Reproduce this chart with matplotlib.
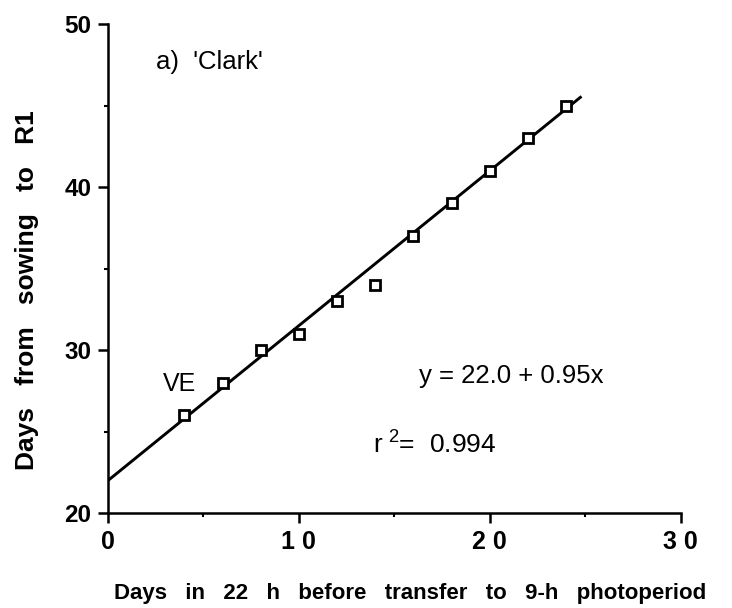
import matplotlib
matplotlib.use("Agg")
import matplotlib.pyplot as plt
import numpy as np
from matplotlib.ticker import MultipleLocator

plt.rcParams['font.family'] = ['Liberation Sans', 'DejaVu Sans']
plt.rcParams['mathtext.default'] = 'regular'

# data
days_in_22h = [4, 6, 8, 10, 12, 14, 16, 18, 20, 22, 24]
days_to_r1 = [26, 28, 30, 31, 33, 34, 37, 39, 41, 43, 45]

# regression as printed on the chart
intercept = 22.0
slope = 0.95
fit_end = 24.8

x_ticks = [0, 10, 20, 30]
x_tick_labels = ['0', '1 0', '2 0', '3 0']
y_ticks = [20, 30, 40, 50]

fig = plt.figure(figsize=(7.32, 6.08), dpi=100)
ax = fig.add_axes([0.1475, 0.156, 0.7825, 0.8045])

xs = np.array([0, fit_end])
ax.plot(xs, intercept + slope * xs, color='black', lw=2.1, solid_capstyle='butt', zorder=2)
ax.plot(days_in_22h, days_to_r1, ls='none', marker='s', ms=7, mfc='white',
        mec='black', mew=2.0, zorder=3)

ax.set_xlim(0, 30)
ax.set_ylim(20, 50)
for s in ['top', 'right']:
    ax.spines[s].set_visible(False)
for s in ['left', 'bottom']:
    ax.spines[s].set_linewidth(1.8)

ax.set_xticks(x_ticks)
ax.set_xticklabels(x_tick_labels, fontsize=18, fontweight='bold')
ax.set_yticks(y_ticks)
ax.set_yticklabels([str(v) for v in y_ticks], fontsize=17.5, fontweight='bold')
ax.xaxis.set_minor_locator(MultipleLocator(5))
ax.yaxis.set_minor_locator(MultipleLocator(5))
ax.tick_params(which='major', direction='out', length=7, width=1.8, pad=5)
ax.tick_params(which='minor', direction='out', length=3, width=1.5)

ax.set_xlabel('Days   in   22   h   before   transfer   to   9-h   photoperiod',
              fontsize=16, fontweight='bold', va='center')
ax.xaxis.set_label_coords(0.527, -0.165)
ax.set_ylabel('Days   from   sowing   to   R1', fontsize=19, fontweight='bold')
ax.yaxis.set_label_coords(-0.12, 0.455)

ax.text(2.5, 47.7, "a)  'Clark'", fontsize=18.5, va='center', ha='left')
ax.text(2.9, 27.9, 'VE', fontsize=18, va='center', ha='left')
ax.text(16.3, 28.4, 'y = 22.0 + 0.95x', fontsize=18.5, va='center', ha='left')
ax.text(13.9, 24.2, 'r$^{\\,\\,2}$=  0.994', fontsize=19, va='center', ha='left')

fig.savefig('out.png', dpi=100)
